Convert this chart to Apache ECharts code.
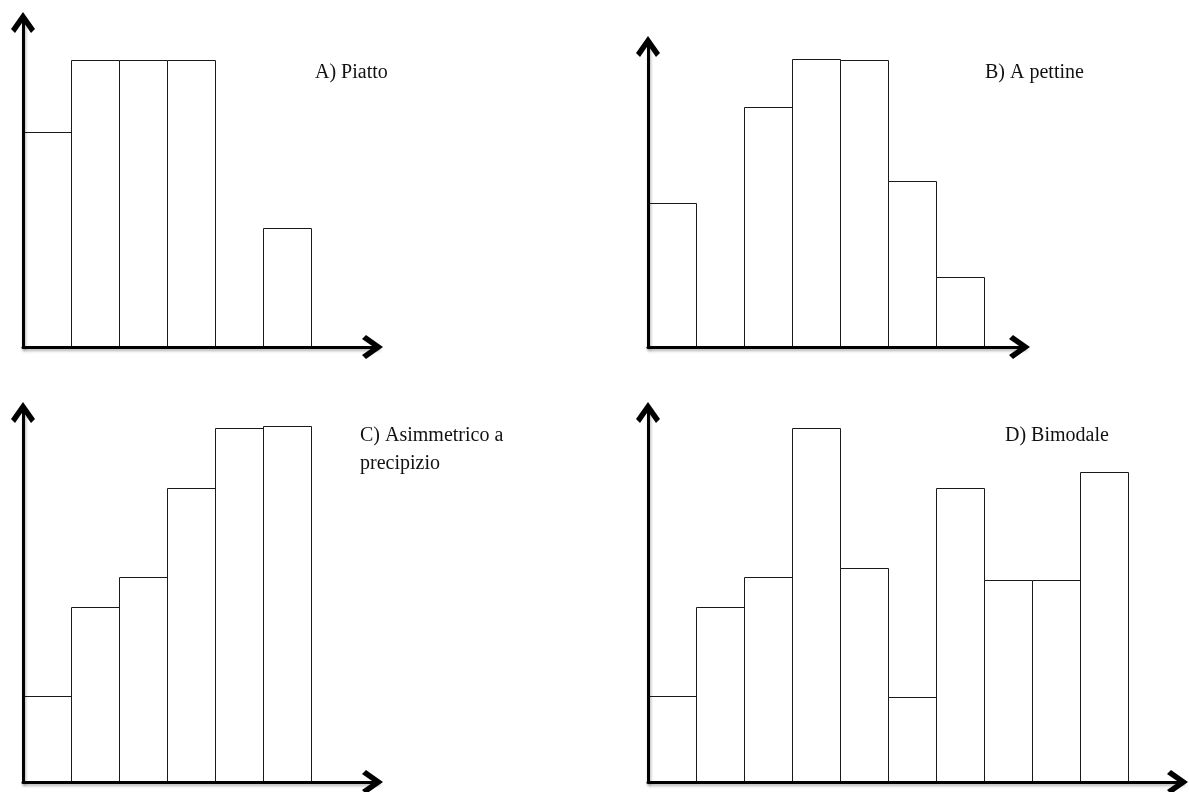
<!DOCTYPE html>
<html>
<head>
<meta charset="utf-8">
<script src="https://cdn.jsdelivr.net/npm/echarts@6/dist/echarts.min.js"></script>
<style>
  html, body { margin: 0; padding: 0; background: #fff; }
  #chart { width: 1189px; height: 792px; }
</style>
</head>
<body>
<div id="chart"></div>
<script>
// ---- data (relative frequencies, arbitrary units) ----
const labelA = 'A) Piatto';
const labelB = 'B) A pettine';
const labelC = 'C) Asimmetrico a\nprecipizio';
const labelD = 'D) Bimodale';

const valuesA = [15, 20, 20, 20, 0, 8.3];
const valuesB = [10, 0, 16.7, 20.1, 20, 11.6, 4.9];
const valuesC = [6, 12.2, 14.3, 20.5, 24.7, 24.8];
const valuesD = [6, 12.2, 14.3, 24.7, 14.9, 5.9, 20.5, 14.1, 14.1, 21.6];

// ---- layout ----
const panels = [
  { values: valuesA, grid: { left: 23, top: 17, width: 355, height: 330 }, xMax: 7.396, yMax: 23.0 },
  { values: valuesB, grid: { left: 648, top: 41, width: 377, height: 306 }, xMax: 7.854, yMax: 21.32 },
  { values: valuesC, grid: { left: 23, top: 407, width: 355, height: 375 }, xMax: 7.396, yMax: 26.13 },
  { values: valuesD, grid: { left: 648, top: 407, width: 535, height: 375 }, xMax: 11.146, yMax: 26.13 }
];

const arrowPath = 'path://M12,0 L24,17 L20,21 L12,9.5 L4,21 L0,17 Z';
const axisLineStyle = {
  color: '#000', width: 3,
  shadowColor: 'rgba(0,0,0,0.3)', shadowBlur: 3, shadowOffsetX: 1, shadowOffsetY: 2
};
function axisCommon(max) {
  return {
    type: 'value', min: 0, max: max, z: 5,
    axisLine: {
      show: true, onZero: false,
      symbol: ['none', arrowPath],
      symbolSize: [24, 21],
      symbolOffset: [0, -5.5],
      lineStyle: axisLineStyle
    },
    axisTick: { show: false },
    axisLabel: { show: false },
    splitLine: { show: false }
  };
}

function renderBin(params, api) {
  const i = api.value(0);
  const v = api.value(1);
  if (!v) return null;
  const p0 = api.coord([i, 0]);
  const p1 = api.coord([i + 1, v]);
  const x0 = Math.round(p0[0]) + 0.5;
  const x1 = Math.round(p1[0]) + 0.5;
  const y0 = Math.round(p0[1]) + 0.5;
  const y1 = Math.round(p1[1]) + 0.5;
  return {
    type: 'rect',
    shape: { x: x0, y: y1, width: x1 - x0, height: y0 - y1 },
    style: { fill: '#fff', stroke: '#1a1a1a', lineWidth: 1 }
  };
}

const textStyle = { fontFamily: 'Liberation Serif', fontSize: 20, fontWeight: 'normal', color: '#111', lineHeight: 28 };

const option = {
  animation: false,
  backgroundColor: '#fff',
  title: [
    { text: labelA, left: 315, top: 59, padding: 0, textStyle: textStyle },
    { text: labelB, left: 985, top: 59, padding: 0, textStyle: textStyle },
    { text: labelC, left: 360, top: 422, padding: 0, textStyle: textStyle },
    { text: labelD, left: 1005, top: 422, padding: 0, textStyle: textStyle }
  ],
  grid: panels.map(p => Object.assign({ containLabel: false }, p.grid)),
  xAxis: panels.map((p, k) => Object.assign(axisCommon(p.xMax), { gridIndex: k })),
  yAxis: panels.map((p, k) => Object.assign(axisCommon(p.yMax), { gridIndex: k })),
  series: panels.map((p, k) => ({
    type: 'custom',
    xAxisIndex: k,
    yAxisIndex: k,
    renderItem: renderBin,
    data: p.values.map((v, i) => [i, v]),
    z: 1
  }))
};

const chart = echarts.init(document.getElementById('chart'), null, { renderer: 'canvas' });
chart.setOption(option);
</script>
</body>
</html>
